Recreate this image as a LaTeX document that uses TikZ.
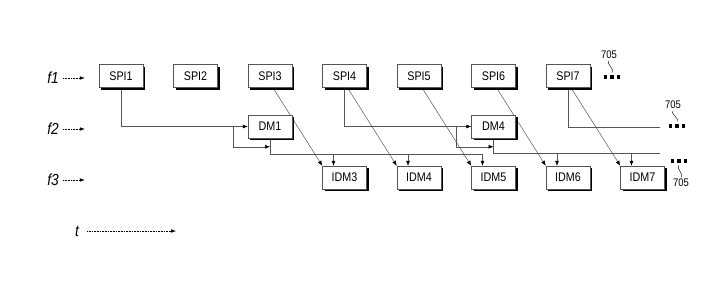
\documentclass[tikz,border=0pt]{standalone}
\usepackage{fontspec}
\setmainfont{Liberation Sans}[FakeStretch=0.86]
\usepackage{tikz}
\usetikzlibrary{arrows.meta, positioning, shadows, backgrounds, calc}
\definecolor{scangray}{HTML}{555555}
\newcommand{\moredots}{\rule{3.2pt}{3.2pt}\hspace{3.2pt}\rule{3.2pt}{3.2pt}\hspace{3.2pt}\rule{3.2pt}{3.2pt}}

\begin{document}
\begin{tikzpicture}[
    x=1pt, y=1pt,
    node distance=30pt and 30pt,
    blk/.style={rectangle, draw=scangray, fill=white, line width=0.5pt,
        minimum width=44pt, minimum height=23pt, inner sep=1pt,
        font=\fontsize{12.5}{13}\selectfont,
        drop shadow={shadow xshift=2pt, shadow yshift=-2pt, fill=black, opacity=1}},
    freq/.style={font=\fontsize{16}{17}\selectfont\itshape, inner sep=0pt},
    refno/.style={font=\fontsize{11}{12}\selectfont, inner sep=0.5pt},
    dotsnode/.style={inner sep=0pt},
    axis/.style={-{Latex[length=5pt, width=3.5pt]}, densely dotted, line width=0.6pt},
    link/.style={line width=0.5pt, scangray},
    arr/.style={link, -{Latex[length=5pt, width=4pt, color=black]}},
    squig/.style={line width=0.4pt}
]
    \useasboundingbox (0,0) rectangle (727,-292);

    % frequency rows and time axis
    \node[freq] (f1) at (53,-78) {f1};
    \node[freq] (f2) at (53,-129) {f2};
    \node[freq] (f3) at (53,-180) {f3};
    \node[freq] (t) at (77,-231) {t};
    \foreach \f in {f1, f2, f3}
        \draw[axis] ([xshift=4pt]\f.east) -- ++(22,0);
    \draw[axis] ([xshift=8pt]t.east) -- ++(89,0);

    % top row: SPI
    \node[blk] (spi1) at (121,-76) {SPI1};
    \node[blk, right=of spi1] (spi2) {SPI2};
    \node[blk, right=of spi2] (spi3) {SPI3};
    \node[blk, right=of spi3] (spi4) {SPI4};
    \node[blk, right=of spi4] (spi5) {SPI5};
    \node[blk, right=of spi5] (spi6) {SPI6};
    \node[blk, right=of spi6] (spi7) {SPI7};

    % middle row: DM
    \node[blk, below=27pt of spi3] (dm1) {DM1};
    \node[blk, below=27pt of spi6] (dm4) {DM4};

    % bottom row: IDM
    \node[blk, below=78pt of spi4] (idm3) {IDM3};
    \node[blk, right=of idm3] (idm4) {IDM4};
    \node[blk, right=of idm4] (idm5) {IDM5};
    \node[blk, right=of idm5] (idm6) {IDM6};
    \node[blk, right=of idm6] (idm7) {IDM7};

    % continuation marks
    \node[dotsnode] (more1) at (612,-77) {\moredots};
    \node[refno] (ref1) at (609,-55) {705};
    \node[dotsnode] (more2) at (677,-126) {\moredots};
    \node[refno] (ref2) at (673,-105) {705};
    \node[dotsnode] (more3) at (679,-161) {\moredots};
    \node[refno] (ref3) at (681,-183) {705};
    \draw[squig] ([yshift=-1pt]ref1.south) .. controls +(-4,-2) and +(4,2) .. ([yshift=2.5pt]more1.north);
    \draw[squig] ([yshift=-1pt]ref2.south) .. controls +(-4,-2) and +(4,2) .. ([yshift=2.5pt]more2.north);
    \draw[squig] ([yshift=-2.5pt]more3.south) .. controls +(-4,-2) and +(4,2) .. ([yshift=1pt]ref3.north);

    \coordinate (spi7end) at (660,-127);
    \coordinate (dm4end) at (660,-153.5);
    \coordinate[left=15pt of dm1.west] (fb1);
    \coordinate[left=15pt of dm4.west] (fb4);
    \coordinate (k1) at ($(dm1.south)+(0,-8.5)$);
    \coordinate (k4) at ($(dm4.south)+(0,-8.5)$);
    \coordinate (d1) at ($(dm1.south)+(0,-16)$);
    \coordinate (d4) at ($(dm4.south)+(0,-16)$);

    \begin{scope}[on background layer]
        % SPI to DM
        \draw[arr] (spi1.south) |- (dm1.west);
        \draw[arr] (spi4.south) |- (dm4.west);
        \draw[link] (spi7.south) |- (spi7end);
        % feedback
        \draw[arr] (fb1) |- (k1);
        \draw[arr] (fb4) |- (k4);
        % DM outputs
        \draw[arr] (dm1.south) -- (d1) -| ([xshift=-11pt]idm5.north);
        \foreach \n in {idm3, idm4}
            \draw[arr] ([xshift=-11pt]\n.north |- d1) -- ([xshift=-11pt]\n.north);
        \draw[link] (dm4.south) |- (dm4end);
        \foreach \n in {idm6, idm7}
            \draw[arr] ([xshift=-11pt]\n.north |- d4) -- ([xshift=-11pt]\n.north);
        % diagonals
        \foreach \s/\d in {spi3/idm3, spi4/idm4, spi5/idm5, spi6/idm6, spi7/idm7}
            \draw[arr] ([xshift=3pt]\s.south) -- (\d.north west);
    \end{scope}
\end{tikzpicture}
\end{document}
